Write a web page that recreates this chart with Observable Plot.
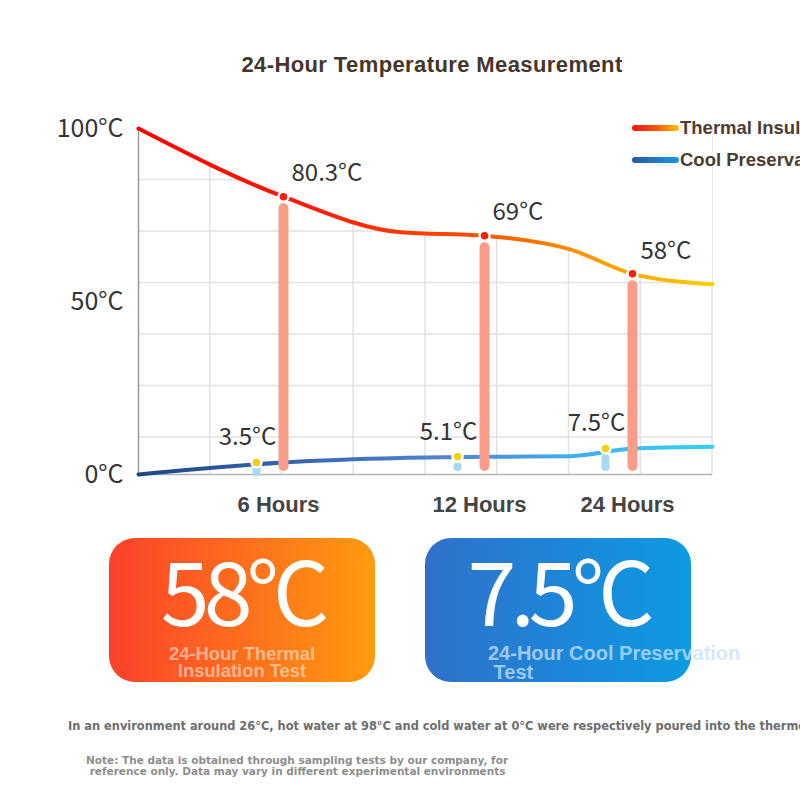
<!DOCTYPE html>
<html>
<head>
<meta charset="utf-8">
<script src="https://cdn.jsdelivr.net/npm/d3@7"></script>
<script src="https://cdn.jsdelivr.net/npm/@observablehq/plot@0.6"></script>
<style>
  html, body { margin: 0; padding: 0; background: #fff; }
  body { width: 800px; height: 800px; overflow: hidden; position: relative; font-family: "Liberation Sans", Arial, sans-serif; }
  #title { position: absolute; left: 0; width: 864px; top: 52px; text-align: center; font-weight: bold; font-size: 22px; letter-spacing: 0.4px; color: #45362b; white-space: nowrap; }
  #chart { position: absolute; left: 0; top: 0; }
  .lg { position: absolute; left: 632px; height: 20px; display: flex; align-items: center; white-space: nowrap; }
  .sw { display: inline-block; width: 47px; height: 6px; border-radius: 3px; margin-right: 1px; }
  .lg span.t { font-weight: bold; font-size: 18.5px; color: #4a3d33; }
  .card { position: absolute; top: 538px; width: 266px; height: 144px; border-radius: 26px; overflow: visible; }
  #hotCard { left: 109px; background: linear-gradient(90deg, #fd412a, #fe9b0f); }
  #coolCard { left: 425px; background: linear-gradient(90deg, #3070cb, #0c9be2); }
  .big { position: absolute; left: 0; width: 266px; text-align: center; top: 6px; font-family: "Noto Sans CJK SC", "Noto Sans", sans-serif; font-weight: 400; font-size: 88px; line-height: 88px; color: #fff; letter-spacing: -6px; }
  .sub { position: absolute; font-weight: bold; white-space: nowrap; }
  #hotSub { left: 0; width: 266px; text-align: center; top: 108px; font-size: 18.4px; line-height: 16.5px; color: rgba(255,232,222,0.62); }
  #coolSub { left: 63px; top: 106px; font-size: 20px; line-height: 19px; color: rgba(200,225,255,0.75); }
  #note1 { position: absolute; left: 68px; top: 719px; font-family: "DejaVu Sans", sans-serif; font-weight: bold; font-size: 11.4px; color: #6d6d6d; white-space: nowrap; }
  #note2 { position: absolute; left: 86px; top: 755px; font-family: "DejaVu Sans", sans-serif; font-weight: bold; font-size: 10.5px; line-height: 11px; color: #8d8d8d; white-space: nowrap; }
</style>
</head>
<body>
<div id="title"></div>
<div id="chart"></div>
<div id="legend"></div>
<div class="card" id="hotCard"><div class="big" id="hotBig"></div><div class="sub" id="hotSub"></div></div>
<div class="card" id="coolCard"><div class="big" id="coolBig"></div><div class="sub" id="coolSub"></div></div>
<div id="note1"></div>
<div id="note2"></div>
<script>
// ---------- data ----------
const titleText = "24-Hour Temperature Measurement";
const seriesNames = ["Thermal Insulation", "Cool Preservation"];
const curveHours = [0, 6, 9.5, 12, 19, 24, 30];
const hotCurve = [100, 80.3, 70, 69, 65, 58, 55];
const coolCurve = [0, 3.5, 4.8, 5.1, 5.3, 7.5, 8];
const measureHours = [6, 12, 24];
const hotValues = [80.3, 69, 58];
const coolValues = [3.5, 5.1, 7.5];
const xTickLabels = ["6 Hours", "12 Hours", "24 Hours"];
const yTicks = [0, 50, 100];
const yTickLabels = ["0°C", "50°C", "100°C"];
const cardValues = ["58°C", "7.5°C"];
const cardLabels = [["24-Hour Thermal", "Insulation Test"], ["24-Hour Cool Preservation", " Test"]];
const note1Text = "In an environment around 26°C, hot water at 98°C and cold water at 0°C were respectively poured into the thermos cups";
const note2Lines = ["Note: The data is obtained through sampling tests by our company, for", " reference only. Data may vary in different experimental environments"];

// ---------- layout ----------
const W = 800, H = 530, ML = 138, MR = 88, MT = 128, MB = 56;
const xDomain = [0, 6, 12, 24, 30];
const xBreaks = [0, 0.2526, 0.6028, 0.8606, 1];   // piecewise spacing of the hour axis
const xRange = xBreaks.map(f => ML + f * (W - ML - MR));
const gridCols = 8, gridRowPx = 51.5, gridRows = 6;

const curve = curveHours.map((h, i) => ({h, hot: hotCurve[i], cool: coolCurve[i]}));
const meas = measureHours.map((h, i) => ({h, hot: hotValues[i], cool: coolValues[i], label: xTickLabels[i]}));
const yt = yTicks.map((v, i) => ({v, label: yTickLabels[i]}));

const ns = "http://www.w3.org/2000/svg";
function defsMark() {
  const defs = document.createElementNS(ns, "defs");
  const mk = (id, stops) => {
    const g = document.createElementNS(ns, "linearGradient");
    g.setAttribute("id", id);
    g.setAttribute("gradientUnits", "userSpaceOnUse");
    g.setAttribute("x1", ML); g.setAttribute("x2", W - MR);
    g.setAttribute("y1", 0); g.setAttribute("y2", 0);
    for (const [o, c] of stops) {
      const s = document.createElementNS(ns, "stop");
      s.setAttribute("offset", o); s.setAttribute("stop-color", c);
      g.appendChild(s);
    }
    defs.appendChild(g);
  };
  mk("hotGrad", [[0, "#ff0000"], [0.3, "#ff1c08"], [0.6, "#ff5200"], [0.77, "#ff9400"], [1, "#ffcc00"]]);
  mk("coolGrad", [[0, "#1d4684"], [0.3, "#3a68b6"], [0.55, "#4f86d2"], [0.75, "#3eaeee"], [1, "#30d2f6"]]);
  return defs;
}
function gridMark() {
  const g = d3.create("svg:g").attr("stroke", "#e2e2e2").attr("stroke-width", 1.5);
  const colW = (W - ML - MR) / gridCols;
  for (let k = 1; k <= gridCols; k++) {
    const x = ML + k * colW;
    g.append("line").attr("x1", x).attr("x2", x).attr("y1", MT).attr("y2", H - MB);
  }
  for (let k = 1; k <= gridRows; k++) {
    const y = MT + k * gridRowPx;
    g.append("line").attr("x1", ML).attr("x2", W - MR).attr("y1", y).attr("y2", y);
  }
  return g.node();
}

const labelFont = "'Noto Sans CJK SC', 'Noto Sans', sans-serif";
const chart = Plot.plot({
  width: W, height: H,
  marginLeft: ML, marginRight: MR, marginTop: MT, marginBottom: MB,
  x: {type: "linear", domain: xDomain, range: xRange, axis: null},
  y: {domain: [0, 100], axis: null},
  style: {background: "transparent", overflow: "visible"},
  marks: [
    defsMark,
    gridMark,
    Plot.areaY(curve, {x: "h", y1: "hot", y2: 100, curve: "monotone-x", fill: "white"}),
    Plot.ruleY([0], {stroke: "#b3b3b3", strokeWidth: 1.5}),
    Plot.ruleX([0], {y1: 0, y2: 100, stroke: "#9c9c9c", strokeWidth: 1.5}),
    Plot.line(curve, {x: "h", y: "hot", curve: "monotone-x", stroke: "url(#hotGrad)", strokeWidth: 4}),
    Plot.line(curve, {x: "h", y: "cool", curve: "monotone-x", stroke: "url(#coolGrad)", strokeWidth: 4}),
    Plot.ruleX(meas, {x: "h", y1: "hot", y2: 0, stroke: "#f99c88", strokeWidth: 10, strokeLinecap: "round", insetTop: 12, insetBottom: 8}),
    Plot.ruleX(meas, {x: "h", y1: "cool", y2: 0, dx: -27, stroke: "#a5daf4", strokeWidth: 8, strokeLinecap: "round", insetTop: 10, insetBottom: 7}),
    Plot.dot(meas, {x: "h", y: "hot", r: 5, fill: "#ff1a0a", stroke: "white", strokeWidth: 2.5}),
    Plot.dot(meas, {x: "h", y: "cool", dx: -27, r: 5, fill: "#f6cf0f", stroke: "white", strokeWidth: 2.5}),
    Plot.text(meas, {x: "h", y: "hot", text: d => `${d.hot}°C`, textAnchor: "start", dx: 8, dy: -23, fontSize: 24, fontFamily: labelFont, fill: "#333"}),
    Plot.text(meas, {x: "h", y: "cool", text: d => `${d.cool}°C`, textAnchor: "middle", dx: -36, dy: -25, fontSize: 24, fontFamily: labelFont, fill: "#333"}),
    Plot.text(yt, {x: 0, y: "v", text: "label", textAnchor: "end", dx: -15, fontSize: 25, fontFamily: labelFont, fill: "#333"}),
    Plot.text(meas, {x: "h", y: 0, text: "label", dx: -5, dy: 30, fontSize: 22, fontWeight: "bold", fontFamily: "'Liberation Sans', Arial, sans-serif", fill: "#444"})
  ]
});
document.getElementById("chart").appendChild(chart);

document.getElementById("title").textContent = titleText;

const legend = document.getElementById("legend");
const swatches = ["linear-gradient(90deg,#ff1010,#ff5200,#ffc400)", "linear-gradient(90deg,#2a56a2,#1898e6)"];
const legendTops = [118, 150];
seriesNames.forEach((name, i) => {
  const row = document.createElement("div");
  row.className = "lg";
  row.style.top = legendTops[i] + "px";
  const sw = document.createElement("span"); sw.className = "sw"; sw.style.background = swatches[i];
  const t = document.createElement("span"); t.className = "t"; t.textContent = name;
  row.appendChild(sw); row.appendChild(t);
  legend.appendChild(row);
});

document.getElementById("hotBig").textContent = cardValues[0];
document.getElementById("coolBig").textContent = cardValues[1];
document.getElementById("hotSub").innerHTML = cardLabels[0].join("<br>");
document.getElementById("coolSub").innerHTML = cardLabels[1].map(s => s.replace(/^ /, "&nbsp;")).join("<br>");
document.getElementById("note1").textContent = note1Text;
document.getElementById("note2").innerHTML = note2Lines.map(s => s.replace(/^ /, "&nbsp;")).join("<br>");
</script>
</body>
</html>
